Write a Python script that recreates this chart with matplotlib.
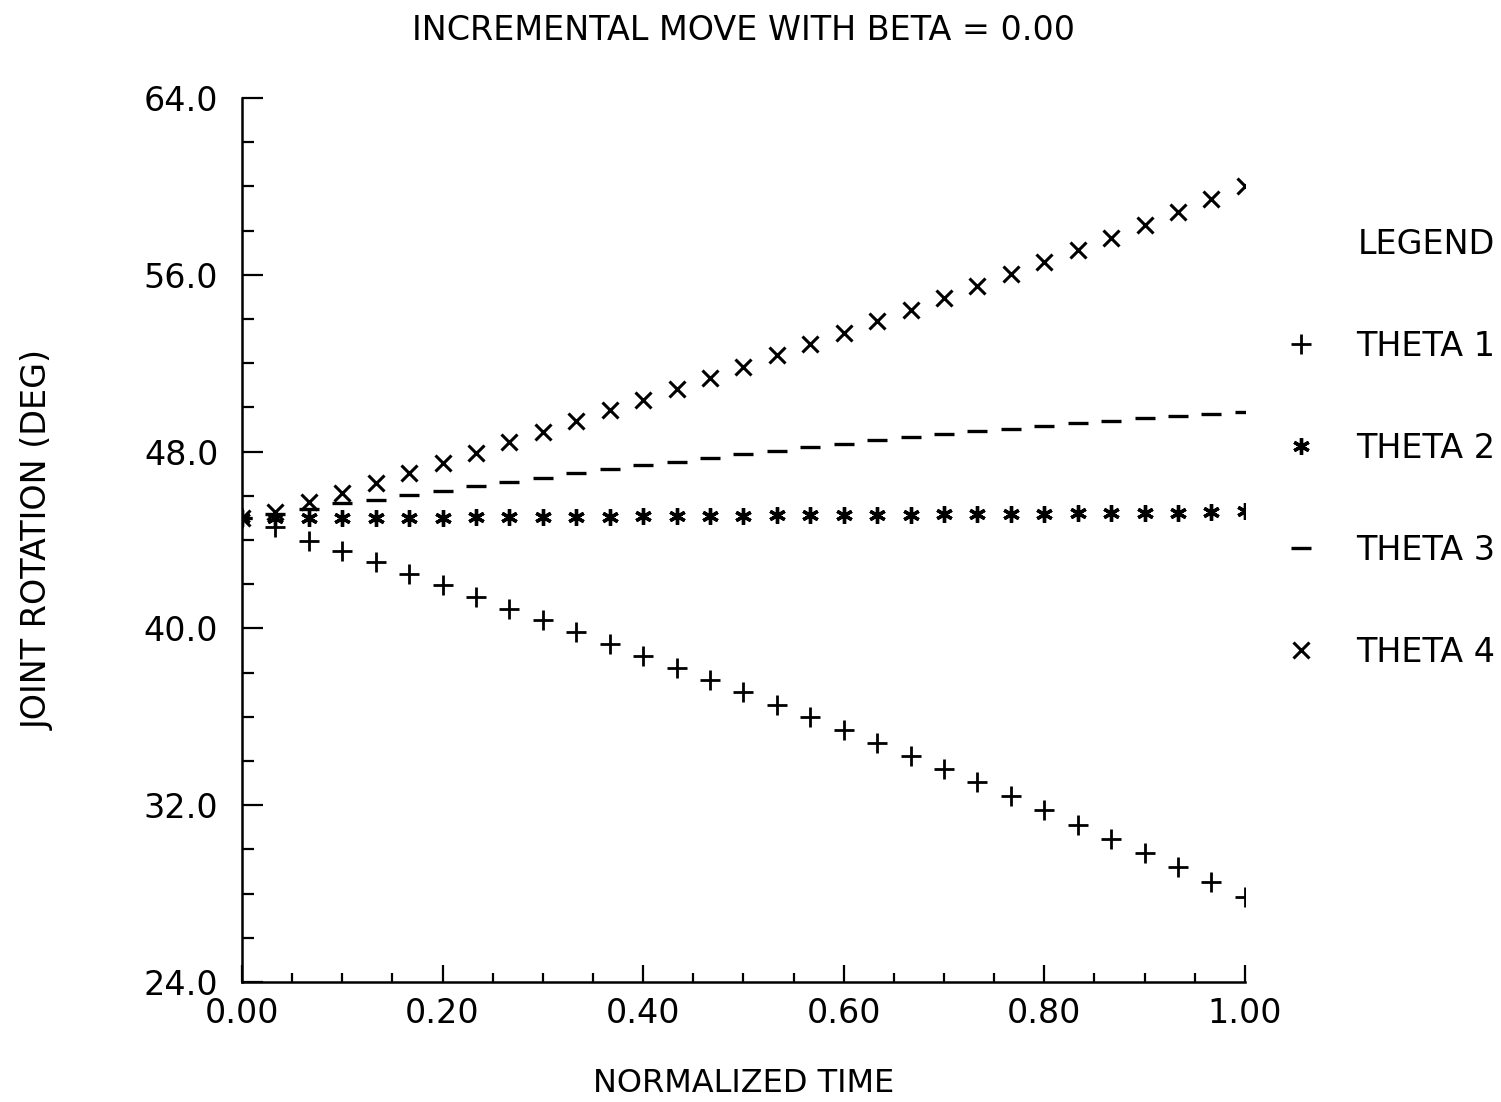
import matplotlib

matplotlib.use("Agg")

import matplotlib.pyplot as plt
import numpy as np
from matplotlib.ticker import MultipleLocator, FormatStrFormatter

plt.rcParams["font.family"] = ["DejaVu Sans"]

# normalized time grid (31 samples)
time = np.linspace(0.0, 1.0, 31)

theta1 = [45.00, 44.59, 43.95, 43.50, 43.00, 42.46, 41.96, 41.42, 40.88, 40.38,
          39.84, 39.29, 38.75, 38.21, 37.67, 37.12, 36.53, 35.99, 35.40, 34.81,
          34.23, 33.64, 33.05, 32.42, 31.78, 31.10, 30.47, 29.84, 29.20, 28.52,
          27.85]
theta2 = [45.00, 45.00, 45.00, 45.00, 45.00, 45.00, 45.01, 45.02, 45.03, 45.04,
          45.05, 45.06, 45.07, 45.08, 45.09, 45.10, 45.11, 45.12, 45.13, 45.14,
          45.15, 45.16, 45.17, 45.18, 45.19, 45.20, 45.21, 45.22, 45.23, 45.25,
          45.30]
theta3 = [45.00, 45.18, 45.40, 45.67, 45.81, 46.04, 46.23, 46.44, 46.64, 46.82,
          47.02, 47.20, 47.39, 47.54, 47.72, 47.89, 48.04, 48.22, 48.34, 48.52,
          48.65, 48.78, 48.93, 49.04, 49.16, 49.28, 49.40, 49.51, 49.61, 49.70,
          49.81]
theta4 = [45.00, 45.27, 45.72, 46.13, 46.58, 47.03, 47.48, 47.94, 48.43, 48.89,
          49.38, 49.88, 50.33, 50.83, 51.33, 51.83, 52.37, 52.87, 53.37, 53.91,
          54.41, 54.95, 55.49, 56.04, 56.58, 57.12, 57.66, 58.25, 58.84, 59.43,
          60.02]

series = [
    ("THETA 1", theta1, "+", 15, 2.0),
    ("THETA 2", theta2, (6, 2, 0), 12, 2.4),
    ("THETA 3", theta3, "_", 15, 2.4),
    ("THETA 4", theta4, "x", 11, 2.2),
]

fig = plt.figure(figsize=(15.01, 11.02), dpi=100)
ax = fig.add_axes([0.1612, 0.1089, 0.6682, 0.8022])

handles = []
for label, vals, marker, ms, mew in series:
    (h,) = ax.plot(time, vals, linestyle="none", marker=marker, markersize=ms,
                   markeredgewidth=mew, color="black", label=label)
    handles.append(h)

ax.set_xlim(0, 1)
ax.set_ylim(24, 64)
ax.xaxis.set_major_locator(MultipleLocator(0.2))
ax.xaxis.set_minor_locator(MultipleLocator(0.05))
ax.yaxis.set_major_locator(MultipleLocator(8))
ax.yaxis.set_minor_locator(MultipleLocator(2))
ax.xaxis.set_major_formatter(FormatStrFormatter("%.2f"))
ax.yaxis.set_major_formatter(FormatStrFormatter("%.1f"))

for side in ("top", "right"):
    ax.spines[side].set_visible(False)
for side in ("left", "bottom"):
    ax.spines[side].set_linewidth(1.8)

ax.tick_params(axis="both", which="both", direction="in", width=1.6, labelsize=24)
ax.tick_params(axis="y", which="major", length=15, pad=17)
ax.tick_params(axis="y", which="minor", length=8.5)
ax.tick_params(axis="x", which="major", length=12, pad=11)
ax.tick_params(axis="x", which="minor", length=6.5)

ax.set_title("INCREMENTAL MOVE WITH BETA = 0.00", fontsize=24, pad=42)
ax.set_xlabel("NORMALIZED TIME", fontsize=23, labelpad=27)
ax.set_ylabel("JOINT ROTATION (DEG)", fontsize=24, labelpad=64)

ax.legend(handles=handles, title="LEGEND", title_fontsize=24, fontsize=24,
          loc="upper left", bbox_to_anchor=(1269 / 1501, 1 - 211 / 1102),
          bbox_transform=fig.transFigure, frameon=False, alignment="right",
          borderpad=0, labelspacing=2.07, handlelength=0.92, handletextpad=1.2,
          numpoints=1)

fig.savefig("out.png", dpi=100)
